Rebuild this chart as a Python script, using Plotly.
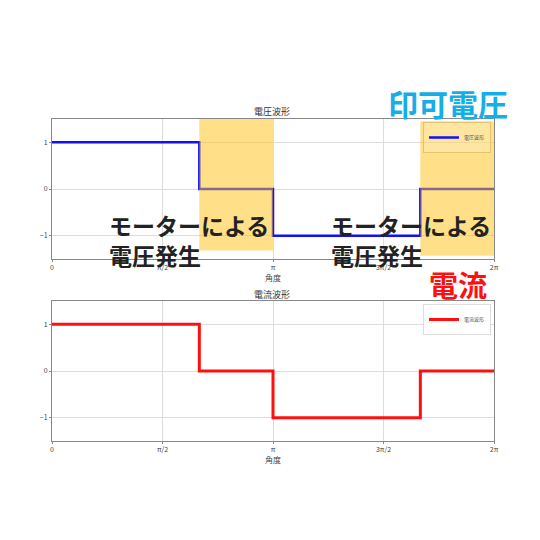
import numpy as np
import plotly.graph_objects as go

# waveform breakpoints (angle in rad) and levels
angles = [0, 2 * np.pi / 3, np.pi, 5 * np.pi / 3, 2 * np.pi]
voltage = [1, 0, -1, 0, 0]
current = [1, 0, -1, 0, 0]

tick_vals = [0, np.pi / 2, np.pi, 3 * np.pi / 2, 2 * np.pi]
tick_text = ["0", "π/2", "π", "3π/2", "2π"]
y_ticks = [-1, 0, 1]

# shaded spans where the motor generates voltage
spans = [(2 * np.pi / 3, np.pi, -1.32, 1.5), (5 * np.pi / 3, 2 * np.pi, -1.43, 1.45)]

jp = "Noto Sans CJK JP"
OFF = 7  # page body margin


def px(v):
    return (v - OFF) / 540


def py(v):
    return 1 - (v - OFF) / 540


fig = go.Figure()
fig.add_trace(go.Scatter(x=angles, y=voltage, mode="lines", line_shape="hv",
                         line=dict(color="#1010ff", width=2.5), name="電圧波形",
                         xaxis="x", yaxis="y", legend="legend", showlegend=True))
fig.add_trace(go.Scatter(x=angles, y=current, mode="lines", line_shape="hv",
                         line=dict(color="#ff1010", width=3), name="電流波形",
                         xaxis="x2", yaxis="y2", legend="legend2", showlegend=True))

axis_style = dict(showgrid=True, gridcolor="#dddddd", gridwidth=1, showline=True,
                  linecolor="#888888", linewidth=1, mirror=True, zeroline=False,
                  ticks="outside", ticklen=2, tickcolor="#888888", automargin=False,
                  tickfont=dict(size=7, color="#444444", family=jp))

x_dom = [px(51), px(493)]
leg_style = dict(xanchor="right", yanchor="top", xref="paper", yref="paper",
                 borderwidth=1, font=dict(size=5, color="#555"), itemwidth=30,
                 tracegroupgap=0)
fig.update_layout(
    width=540, height=540, margin=dict(l=0, r=0, t=0, b=0), showlegend=True,
    paper_bgcolor="white", plot_bgcolor="white", font=dict(family=jp),
    xaxis=dict(domain=x_dom, anchor="y", range=[0, 2 * np.pi], tickvals=tick_vals,
               ticktext=tick_text, title=dict(text="角度", font=dict(size=8, color="#444"),
                                               standoff=2), **axis_style),
    yaxis=dict(domain=[py(258), py(118)], anchor="x", range=[-1.5, 1.5],
               tickvals=y_ticks, **axis_style),
    xaxis2=dict(domain=x_dom, anchor="y2", range=[0, 2 * np.pi], tickvals=tick_vals,
                ticktext=tick_text, title=dict(text="角度", font=dict(size=8, color="#444"),
                                                standoff=2), **axis_style),
    yaxis2=dict(domain=[py(440), py(300)], anchor="x2", range=[-1.5, 1.5],
                tickvals=y_ticks, **axis_style),
    legend=dict(x=px(490), y=py(121), bgcolor="rgba(255,255,255,0.2)",
                bordercolor="#e2c56a", **leg_style),
    legend2=dict(x=px(490), y=py(303), bgcolor="white",
                 bordercolor="#dddddd", **leg_style),
)

for x0, x1, y0, y1 in spans:
    fig.add_shape(type="rect", xref="x", yref="y", x0=x0, x1=x1, y0=y0, y1=y1,
                  fillcolor="rgba(255,193,20,0.5)", line_width=0, layer="above")

notes = [
    dict(text="電圧波形", x=px(271), y=py(110), size=9, color="#333", bold=False),
    dict(text="電流波形", x=px(271), y=py(293), size=9, color="#333", bold=False),
    dict(text="モーターによる<br>電圧発生", x=px(106), y=py(239), size=23,
         color="#222", bold=True, left=True),
    dict(text="モーターによる<br>電圧発生", x=px(328), y=py(239), size=23,
         color="#222", bold=True, left=True),
    dict(text="印可電圧", x=px(447), y=py(102), size=30, color="#16aee8", bold=True),
    dict(text="電流", x=px(457), y=py(283), size=29, color="#ff1010", bold=True),
]
for n in notes:
    txt = "<b>" + n["text"] + "</b>" if n["bold"] else n["text"]
    fig.add_annotation(text=txt, x=n["x"], y=n["y"], xref="paper", yref="paper",
                       showarrow=False, align="left" if n.get("left") else "center",
                       xanchor="left" if n.get("left") else "center", yanchor="middle",
                       font=dict(size=n["size"], color=n["color"], family=jp))

fig.write_html("out.html")
